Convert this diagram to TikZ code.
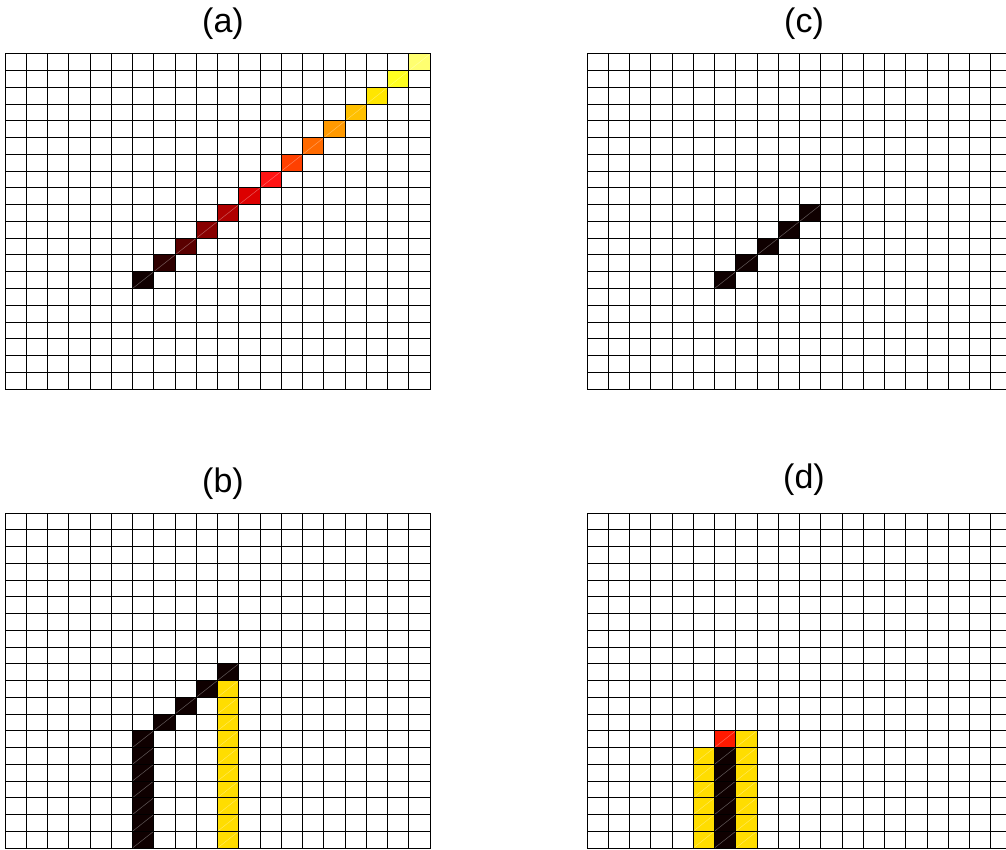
\documentclass[tikz,border=0pt]{standalone}
\usepackage{fontspec}
\setmainfont{Liberation Sans}
\usepackage{tikz}
\usetikzlibrary{positioning}
\definecolor{HotA}{HTML}{0F0000}
\definecolor{HotB}{HTML}{2E0000}
\definecolor{HotC}{HTML}{5A0000}
\definecolor{HotD}{HTML}{880000}
\definecolor{HotE}{HTML}{B00000}
\definecolor{HotF}{HTML}{DC0000}
\definecolor{HotG}{HTML}{FF1414}
\definecolor{HotH}{HTML}{FF4000}
\definecolor{HotI}{HTML}{FF6A00}
\definecolor{HotJ}{HTML}{FF9900}
\definecolor{HotK}{HTML}{FFC000}
\definecolor{HotL}{HTML}{FFE600}
\definecolor{HotM}{HTML}{FFFF20}
\definecolor{HotN}{HTML}{FFFF70}
\definecolor{Gold}{HTML}{FFDD00}
\definecolor{Scarlet}{HTML}{FF1A00}
% one cell of a panel: origin x, origin y, column, row, colour
\newcommand{\cellat}[5]{%
  \fill[#5] ({#1+(#3)*21.25},{#2+(#4)*16.75}) rectangle ++(21.25,16.75);
  \draw[cellglint] ({#1+(#3)*21.25},{#2+(#4+1)*16.75}) -- ++(21.25,-16.75);}
% 20 x 20 grid of a panel
\newcommand{\gridpanel}[2]{%
  \foreach \i in {0,...,20} {
    \draw[gridline] ({#1+\i*21.25},#2) -- ++(0,335);
    \draw[gridline] (#1,{#2+\i*16.75}) -- ++(425,0);}}

\begin{document}
\begin{tikzpicture}[x=1pt,y=-1pt,
  gridline/.style={line width=1pt,black,line cap=rect},
  cellglint/.style={line width=0.5pt,white,opacity=0.35},
  title/.style={inner sep=0pt,font=\fontsize{34}{40}\selectfont}]
  \useasboundingbox (0,0) rectangle (1006,850);
  \clip (0,0) rectangle (1006,850);

  % (a)
  \foreach \k/\c in {0/HotA,1/HotB,2/HotC,3/HotD,4/HotE,5/HotF,6/HotG,
                     7/HotH,8/HotI,9/HotJ,10/HotK,11/HotL,12/HotM,13/HotN}
    {\cellat{5}{54}{6+\k}{13-\k}{\c}}
  \gridpanel{5}{54}
  \node[title] (ta) at (223,23.5) {(a)};

  % (c)
  \foreach \k in {0,...,4} {\cellat{587}{54}{6+\k}{13-\k}{HotA}}
  \gridpanel{587}{54}
  \node[title] (tc) at (804,23.5) {(c)};

  % (b)
  \foreach \r in {13,...,19} {\cellat{5}{513}{6}{\r}{HotA}}
  \foreach \k in {1,...,4} {\cellat{5}{513}{6+\k}{13-\k}{HotA}}
  \foreach \r in {10,...,19} {\cellat{5}{513}{10}{\r}{Gold}}
  \gridpanel{5}{513}
  \node[title] (tb) at (223,483.5) {(b)};

  % (d)
  \foreach \r in {14,...,19} {\cellat{587}{513}{5}{\r}{Gold}
                              \cellat{587}{513}{6}{\r}{HotA}}
  \foreach \r in {13,...,19} {\cellat{587}{513}{7}{\r}{Gold}}
  \cellat{587}{513}{6}{13}{Scarlet}
  \gridpanel{587}{513}
  \node[title] (td) at (804,480) {(d)};
\end{tikzpicture}
\end{document}
